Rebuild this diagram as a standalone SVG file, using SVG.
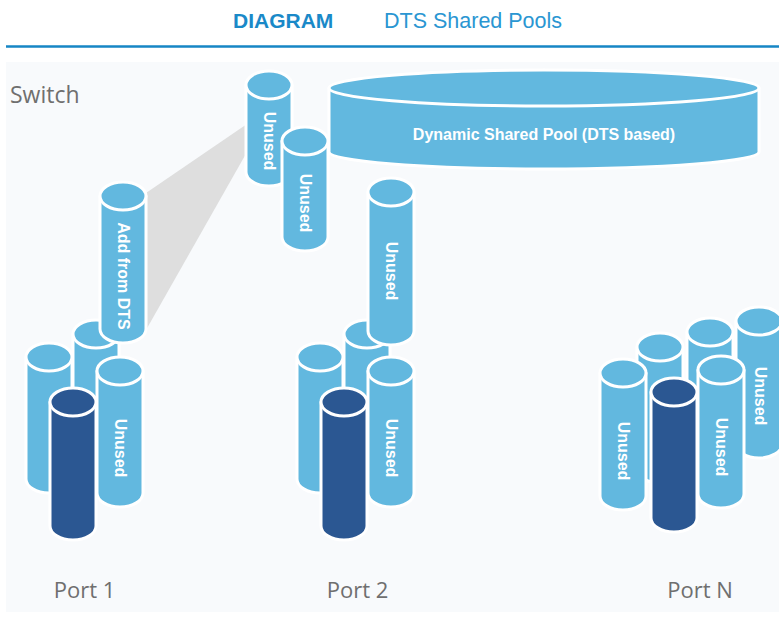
<svg xmlns="http://www.w3.org/2000/svg" width="779" height="625" viewBox="0 0 779 625">
  <style>
    .hdr { font-family: "Liberation Sans", Arial, sans-serif; font-size: 21px; }
    .hdr-b { font-weight: bold; fill: #1a89c8; }
    .hdr-r { fill: #2a96d2; font-size: 21.5px; }
    .lbl { font-family: "Open Sans", "Liberation Sans", sans-serif; fill: #6f6f6f; }
    .cyl path, .cyl ellipse { stroke: #ffffff; stroke-width: 3; stroke-linejoin: round; }
    .light path, .light ellipse { fill: #62b8df; }
    .dark path, .dark ellipse { fill: #2b5792; }
    .ctext { font-family: "Liberation Sans", Arial, sans-serif; font-weight: bold; font-size: 16px; fill: #ffffff; text-anchor: middle; dominant-baseline: central; }
  </style>

  <!-- header -->
  <rect x="0" y="0" width="779" height="625" fill="#ffffff"/>
  <text class="hdr hdr-b" x="233" y="28">DIAGRAM</text>
  <text class="hdr hdr-r" x="384" y="28">DTS Shared Pools</text>
  <line x1="6" y1="46.5" x2="779" y2="46.5" stroke="#1686c5" stroke-width="2.5"/>

  <!-- panel -->
  <rect x="6" y="62" width="773" height="550" fill="#f8fafc"/>
  <text class="lbl" x="10" y="103" font-size="23">Switch</text>

  <!-- allocation wedge from the shared pool to port 1 -->
  <g id="connectors">
    <polygon points="146,193 247,124 247,152 146,330" fill="#dedede"/>
  </g>

  <!-- dynamic shared pool -->
  <g id="pool" class="cyl light">
    <path d="M329,88 V152 A215,17 0 0 0 759,152 V88 Z"/>
    <ellipse cx="544" cy="88" rx="215" ry="18"/>
    <text class="ctext" x="544" y="134">Dynamic Shared Pool (DTS based)</text>
  </g>

  <!-- free buffers in the pool -->
  <g id="pool-unused-1" class="cyl light">
    <path d="M246,85 V172 A23,14 0 0 0 292,172 V85 Z"/>
    <ellipse cx="269" cy="85" rx="23" ry="14"/>
    <text class="ctext" transform="translate(269,141) rotate(90)">Unused</text>
  </g>
  <g id="pool-unused-2" class="cyl light">
    <path d="M282,141 V237 A23,14 0 0 0 328,237 V141 Z"/>
    <ellipse cx="305" cy="141" rx="23" ry="14"/>
    <text class="ctext" transform="translate(305,203) rotate(90)">Unused</text>
  </g>

  <!-- port 1 -->
  <g id="p1-back" class="cyl light">
    <path d="M73,334 V456 A23,14 0 0 0 119,456 V334 Z"/>
    <ellipse cx="96" cy="334" rx="23" ry="14"/>
  </g>
  <g id="p1-add" class="cyl light">
    <path d="M100,196 V329 A23,14 0 0 0 146,329 V196 Z"/>
    <ellipse cx="123" cy="196" rx="23" ry="14"/>
    <text class="ctext" transform="translate(123,276) rotate(90)">Add from DTS</text>
  </g>
  <g id="p1-left" class="cyl light">
    <path d="M26,357 V479 A23,14 0 0 0 72,479 V357 Z"/>
    <ellipse cx="49" cy="357" rx="23" ry="14"/>
  </g>
  <g id="p1-unused" class="cyl light">
    <path d="M97,371 V493 A23,14 0 0 0 143,493 V371 Z"/>
    <ellipse cx="120" cy="371" rx="23" ry="14"/>
    <text class="ctext" transform="translate(120,448) rotate(90)">Unused</text>
  </g>
  <g id="p1-used" class="cyl dark">
    <path d="M50,402 V526 A23,14 0 0 0 96,526 V402 Z"/>
    <ellipse cx="73" cy="402" rx="23" ry="14"/>
  </g>

  <!-- port 2 -->
  <g id="p2-back" class="cyl light">
    <path d="M344,334 V456 A23,14 0 0 0 390,456 V334 Z"/>
    <ellipse cx="367" cy="334" rx="23" ry="14"/>
  </g>
  <g id="p2-tall" class="cyl light">
    <path d="M368,192 V331 A23,14 0 0 0 414,331 V192 Z"/>
    <ellipse cx="391" cy="192" rx="23" ry="14"/>
    <text class="ctext" transform="translate(391,271) rotate(90)">Unused</text>
  </g>
  <g id="p2-left" class="cyl light">
    <path d="M297,357 V479 A23,14 0 0 0 343,479 V357 Z"/>
    <ellipse cx="320" cy="357" rx="23" ry="14"/>
  </g>
  <g id="p2-unused" class="cyl light">
    <path d="M368,371 V493 A23,14 0 0 0 414,493 V371 Z"/>
    <ellipse cx="391" cy="371" rx="23" ry="14"/>
    <text class="ctext" transform="translate(391,448) rotate(90)">Unused</text>
  </g>
  <g id="p2-used" class="cyl dark">
    <path d="M321,402 V526 A23,14 0 0 0 367,526 V402 Z"/>
    <ellipse cx="344" cy="402" rx="23" ry="14"/>
  </g>

  <!-- port N -->
  <g id="pn-back-1" class="cyl light">
    <path d="M637,347 V469 A23,14 0 0 0 683,469 V347 Z"/>
    <ellipse cx="660" cy="347" rx="23" ry="14"/>
  </g>
  <g id="pn-back-2" class="cyl light">
    <path d="M687,332 V454 A23,14 0 0 0 733,454 V332 Z"/>
    <ellipse cx="710" cy="332" rx="23" ry="14"/>
  </g>
  <g id="pn-far" class="cyl light">
    <path d="M736,321 V444 A23,14 0 0 0 782,444 V321 Z"/>
    <ellipse cx="759" cy="321" rx="23" ry="14"/>
    <text class="ctext" transform="translate(760,396) rotate(90)">Unused</text>
  </g>
  <g id="pn-left" class="cyl light">
    <path d="M600,373 V496 A23,14 0 0 0 646,496 V373 Z"/>
    <ellipse cx="623" cy="373" rx="23" ry="14"/>
    <text class="ctext" transform="translate(623,451) rotate(90)">Unused</text>
  </g>
  <g id="pn-unused" class="cyl light">
    <path d="M698,370 V494 A23,14 0 0 0 744,494 V370 Z"/>
    <ellipse cx="721" cy="370" rx="23" ry="14"/>
    <text class="ctext" transform="translate(721,447) rotate(90)">Unused</text>
  </g>
  <g id="pn-used" class="cyl dark">
    <path d="M651,392 V518 A23,14 0 0 0 697,518 V392 Z"/>
    <ellipse cx="674" cy="392" rx="23" ry="14"/>
  </g>

  <!-- port labels -->
  <text class="lbl" x="84.5" y="598" font-size="22" text-anchor="middle">Port 1</text>
  <text class="lbl" x="357.5" y="598" font-size="22" text-anchor="middle">Port 2</text>
  <text class="lbl" x="700" y="598" font-size="22" text-anchor="middle">Port N</text>
</svg>
